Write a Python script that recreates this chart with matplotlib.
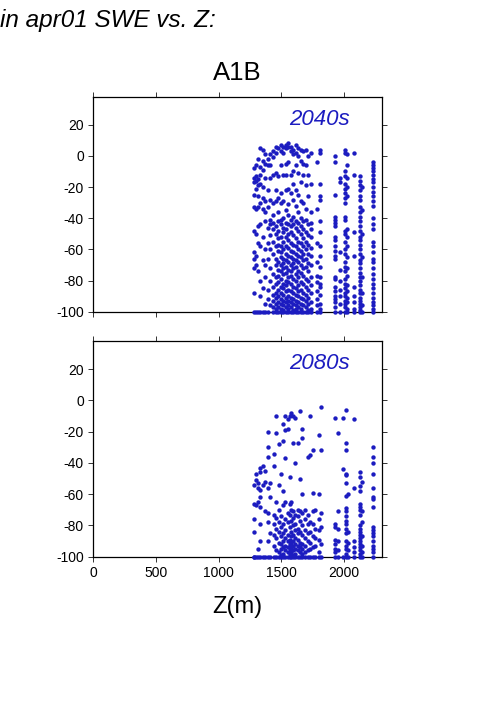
import matplotlib as mpl
mpl.use('Agg')
import matplotlib.pyplot as plt
import numpy as np

plt.rcParams['font.family'] = ['Liberation Sans', 'DejaVu Sans']
plt.rcParams['axes.unicode_minus'] = False

# elevation columns (m) and % change in apr01 SWE, 2040s
z_2040 = [1285, 1300, 1315, 1330, 1350, 1370, 1390, 1410, 1435, 1455, 1475, 1495,
          1515, 1535, 1555, 1575, 1595, 1615, 1635, 1655, 1675, 1695, 1715, 1740,
          1780, 1805,
          1925, 1965, 2005, 2025, 2077, 2130, 2140, 2228]
d_2040 = [
    [-8, -14, -17, -25, -33, -48, -62, -66, -72, -88, -100],
    [-6, -13, -16, -21, -34, -50, -64, -70, -100],
    [-2, -15, -19, -26, -33, -45, -56, -74, -100],
    [5, -7, -12, -18, -30, -44, -58, -80, -90, -100],
    [4, -3, -9, -20, -27, -34, -52, -67, -85, -100],
    [1, -5, -14, -29, -36, -42, -60, -70, -78, -95, -100],
    [-2, -6, -22, -33, -46, -56, -66, -86, -92, -100],
    [1, -6, -14, -28, -41, -44, -51, -60, -72, -80, -96],
    [3, -1, -12, -30, -38, -43, -47, -55, -63, -76, -84, -89, -93, -97, -100],
    [6, 2, -11, -22, -29, -45, -50, -58, -66, -70, -78, -82, -88, -91, -95, -98, -100],
    [5, -13, -27, -36, -42, -48, -53, -57, -61, -68, -73, -77, -81, -86, -90, -94, -97, -100],
    [7, 3, -6, -24, -30, -41, -44, -52, -58, -62, -65, -70, -74, -79, -84, -88, -92, -95, -98, -100],
    [6, 2, -12, -29, -40, -46, -49, -55, -60, -66, -69, -72, -76, -82, -85, -89, -93, -96, -99, -100],
    [7, 5, -5, -12, -22, -35, -43, -47, -52, -58, -63, -67, -71, -75, -80, -83, -87, -91, -94, -97, -100],
    [8, 6, -4, -21, -31, -38, -44, -50, -54, -59, -64, -68, -73, -78, -81, -86, -90, -93, -96, -98, -100],
    [6, 3, -12, -24, -41, -45, -49, -56, -61, -65, -70, -74, -77, -82, -87, -91, -94, -97, -100],
    [4, 1, -10, -18, -28, -39, -44, -51, -57, -62, -66, -69, -72, -79, -84, -88, -92, -95, -99, -100],
    [7, 2, -6, -22, -32, -42, -46, -53, -58, -63, -67, -71, -76, -80, -85, -89, -93, -96, -98, -100],
    [5, 0, -11, -25, -36, -43, -48, -55, -60, -64, -68, -74, -78, -83, -87, -90, -94, -97, -100],
    [4, -3, -17, -29, -40, -45, -50, -56, -61, -65, -70, -75, -81, -86, -91, -95, -98, -100],
    [3, -5, -12, -30, -42, -47, -53, -58, -63, -67, -72, -77, -82, -88, -92, -96, -100],
    [4, -6, -19, -34, -41, -49, -55, -60, -66, -71, -79, -84, -89, -93, -97, -100],
    [0, -12, -26, -44, -51, -57, -63, -69, -74, -80, -86, -91, -95, -99, -100],
    [2, -18, -36, -43, -47, -52, -59, -64, -70, -78, -83, -88, -94, -98, -100],
    [-4, -34, -56, -68, -77, -81, -87, -92, -96, -100],
    [4, 2, -18, -26, -28, -42, -49, -58, -64, -71, -78, -82, -84, -89, -95, -98, -100],
    [0, -4, -25, -39, -41, -43, -45, -52, -54, -58, -61, -64, -66, -78, -79, -84, -87, -90, -92, -94, -97, -100],
    [-14, -17, -62, -73, -80, -86, -90, -95, -100],
    [4, 2, -10, -13, -18, -21, -24, -27, -30, -39, -41, -48, -50, -55, -60, -63, -68, -71, -74, -79,
     -82, -85, -88, -90, -93, -95, -97, -100],
    [1, -6, -14, -20, -26, -47, -52, -58, -65, -72, -77, -83, -87, -91, -94, -98, -100],
    [2, -12, -49, -64, -84, -90, -94, -98, -100],
    [-13, -16, -19, -22, -26, -28, -33, -36, -39, -42, -45, -48, -52, -54, -57, -60, -63, -67, -69,
     -72, -75, -78, -80, -83, -86, -88, -91, -93, -95, -97, -99, -100],
    [-20, -35, -50, -65, -78, -88, -96, -100],
    [-4, -6, -8, -10, -12, -15, -17, -20, -23, -26, -29, -32, -40, -44, -47, -55, -58, -62, -66, -68,
     -72, -76, -79, -82, -85, -88, -91, -94, -96, -98, -100],
]

# 2080s
z_2080 = [1285, 1300, 1315, 1330, 1350, 1370, 1390, 1410, 1440, 1460, 1480, 1500,
          1515, 1530, 1550, 1565, 1580, 1595, 1605, 1630, 1650, 1665, 1690, 1710,
          1725, 1750, 1770, 1800, 1815,
          1926, 1950, 1995, 2015, 2030, 2080, 2128, 2140, 2230]
d_2080 = [
    [-54, -66, -76, -84, -100, -100],
    [-47, -51, -67, -100],
    [-53, -56, -65, -95, -100],
    [-43, -46, -57, -62, -68, -79, -90, -100],
    [-42, -54, -100],
    [-45, -52, -71, -100],
    [-20, -30, -36, -56, -72, -78, -90, -100],
    [-53, -62, -85, -100],
    [-34, -42, -73, -79, -86, -93, -100],
    [-10, -21, -65, -75, -82, -88, -96, -100],
    [-28, -54, -70, -78, -84, -91, -97, -100],
    [-47, -74, -81, -87, -92, -95, -99, -100],
    [-15, -26, -58, -67, -79, -85, -90, -94, -98, -100],
    [-10, -19, -37, -65, -76, -83, -88, -93, -96, -100],
    [-12, -18, -72, -78, -86, -90, -94, -97, -100],
    [-10, -49, -66, -73, -81, -89, -92, -95, -98, -100],
    [-8, -65, -70, -77, -84, -87, -91, -94, -97, -100],
    [-10, -27, -71, -75, -80, -86, -90, -93, -96, -99, -100],
    [-11, -40, -73, -79, -83, -88, -92, -95, -98, -100],
    [-27, -70, -74, -82, -85, -89, -93, -96, -100],
    [-7, -50, -71, -77, -84, -91, -94, -97, -100],
    [-18, -24, -60, -72, -80, -86, -92, -95, -98, -100],
    [-70, -76, -83, -88, -93, -97, -100],
    [-36, -73, -79, -85, -90, -96, -100],
    [-10, -35, -78, -84, -91, -95, -100],
    [-32, -59, -71, -79, -87, -94, -100],
    [-70, -82, -88, -93, -100],
    [-22, -60, -76, -83, -89, -97, -100],
    [-4, -32, -72, -81, -92, -100],
    [-11, -79, -81, -89, -92, -95, -97, -100],
    [-21, -71, -82, -90, -96, -100],
    [-11, -44, -100],
    [-6, -27, -32, -47, -48, -53, -61, -69, -71, -74, -77, -79, -82, -85, -90, -93, -95, -98, -100],
    [-60, -84, -91, -96, -100],
    [-12, -56, -90, -94, -97, -100],
    [-46, -49, -55, -58, -66, -68, -70, -73, -80, -82, -84, -86, -88, -90, -92, -94, -96, -98, -100],
    [-52, -71, -78, -87, -93, -97, -100],
    [-30, -36, -40, -47, -56, -62, -63, -68, -81, -83, -85, -87, -90, -93, -95, -97, -100],
]

periods = ['2040s', '2080s']
blue = '#1c1cc0'


def flatten(zs, ds):
    x = np.concatenate([[z] * len(d) for z, d in zip(zs, ds)])
    y = np.concatenate(ds)
    return x, y


fig = plt.figure(figsize=(5.01, 7.09), dpi=100)
ax1 = fig.add_axes([0.1866, 0.5604, 0.5752, 0.3032])
ax2 = fig.add_axes([0.1866, 0.2148, 0.5752, 0.3042])

for ax, zs, ds, lab in [(ax1, z_2040, d_2040, periods[0]), (ax2, z_2080, d_2080, periods[1])]:
    x, y = flatten(zs, ds)
    ax.scatter(x, y, s=10, color=blue, linewidths=0, clip_on=False, zorder=3)
    ax.set_xlim(0, 2300)
    ax.set_ylim(-100, 38)
    ax.set_xticks([0, 500, 1000, 1500, 2000])
    ax.set_yticks([-100, -80, -60, -40, -20, 0, 20])
    ax.tick_params(direction='out', length=3.5, width=0.7, labelsize=10,
                   top=True, right=True, colors='#333333', labelcolor='black')
    for sp in ax.spines.values():
        sp.set_linewidth(0.9)
    ax.text(0.89, 0.895, lab, transform=ax.transAxes, ha='right', va='center',
            fontsize=16, style='italic', color=blue)

ax1.tick_params(labelbottom=False)
ax1.set_title('A1B', fontsize=18.5, pad=12)
ax2.set_xlabel('Z(m)', fontsize=17, labelpad=11)

fig.text(0.0, 0.962, 'in apr01 SWE vs. Z:', fontsize=17.5, style='italic', ha='left', va='baseline')

plt.savefig('out.png', dpi=100)
